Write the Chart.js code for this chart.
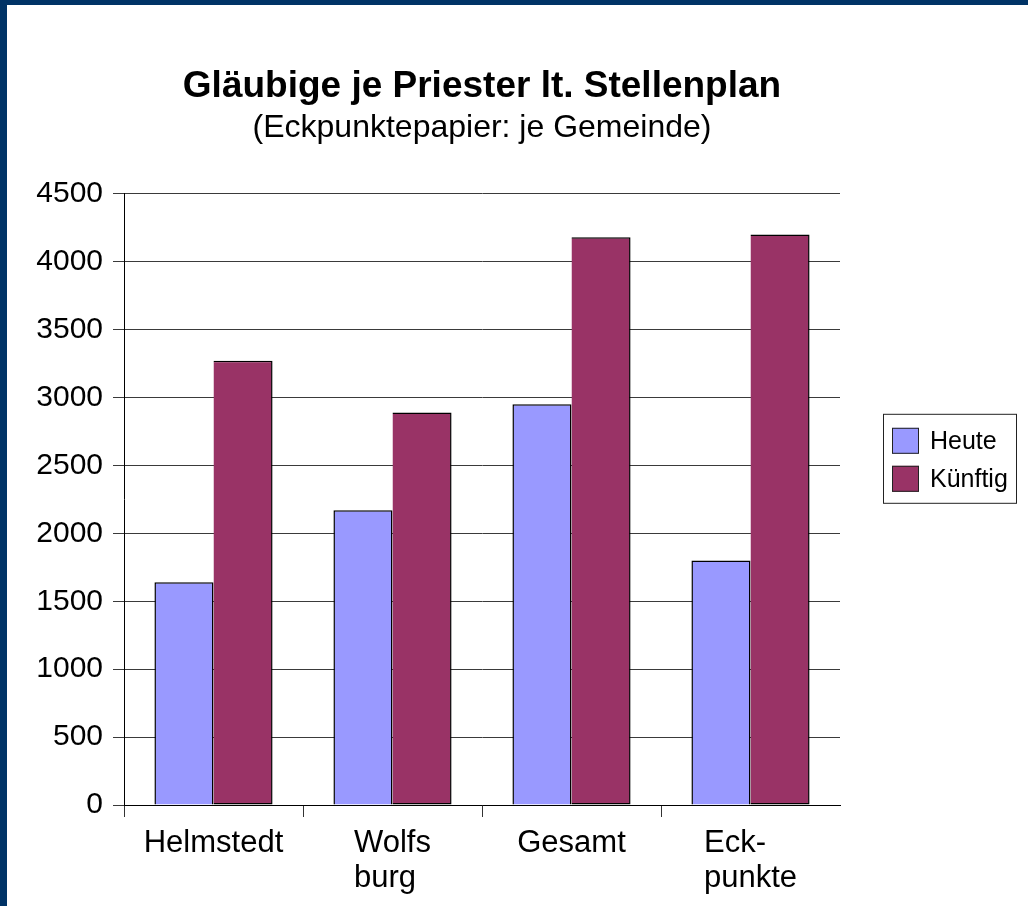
<!DOCTYPE html>
<html>
<head>
<meta charset="utf-8">
<script src="https://cdn.jsdelivr.net/npm/chart.js@4.4.0/dist/chart.umd.min.js"></script>
<style>
  html,body{margin:0;padding:0;background:#003366;overflow:hidden;}
  #wrap{position:absolute;left:7px;top:5px;width:1021px;height:901px;background:#fff;}
</style>
</head>
<body>
<div id="wrap"><canvas id="chart" width="1021" height="901"></canvas></div>
<script>
// Daten
const categories = [['Helmstedt'], ['Wolfs','burg'], ['Gesamt'], ['Eck-','punkte']];
const heute    = [1640, 2170, 2950, 1800];
const kuenftig = [3270, 2890, 4180, 4200];
const yTicks   = [0, 500, 1000, 1500, 2000, 2500, 3000, 3500, 4000, 4500];

const FONT = '"Liberation Sans", Arial, sans-serif';
Chart.defaults.font.family = FONT;
Chart.defaults.color = '#000';

// x-Beschriftung linksbündig (mehrzeilig), Legende mit Rahmen
const customDraw = {
    id:'customDraw',
    afterDraw(chart){
        const ctx = chart.ctx, xs = chart.scales.x, ca = chart.chartArea;
        ctx.save();
        ctx.fillStyle = '#000';
        ctx.font = '31px ' + FONT;
        ctx.textAlign = 'left'; ctx.textBaseline = 'alphabetic';
        categories.forEach((lines,i)=>{
            const cx = xs.getPixelForValue(i);
            const w = Math.max(...lines.map(l=>ctx.measureText(l).width));
            lines.forEach((l,j)=> ctx.fillText(l, cx - w/2, ca.bottom + 47 + j*35));
        });

        // Legende
        const lx = ca.right + 43, ly = ca.top + 220;
        ctx.strokeStyle = '#222'; ctx.lineWidth = 1;
        ctx.strokeRect(lx + .5, ly + .5, 133, 89);
        ctx.font = '25px ' + FONT; ctx.textBaseline = 'middle';
        chart.data.datasets.forEach((ds,i)=>{
            const sy = ly + 14 + i*38;
            ctx.fillStyle = ds.backgroundColor;
            ctx.fillRect(lx + 9, sy, 27, 26);
            ctx.strokeRect(lx + 9.5, sy + .5, 26, 25);
            ctx.fillStyle = '#000';
            ctx.fillText(ds.label, lx + 47, sy + 14);
        });
        ctx.restore();
    }
};

new Chart(document.getElementById('chart'), {
    type:'bar',
    data:{
        labels: categories,
        datasets:[
            {label:'Heute',   data:heute,    backgroundColor:'#9999ff', borderColor:'#000', borderWidth:1.5, borderSkipped:'start'},
            {label:'Künftig', data:kuenftig, backgroundColor:'#993366', borderColor:'#000', borderWidth:1.5, borderSkipped:'left'}
        ]
    },
    options:{
        responsive:false, animation:false,
        layout:{padding:{left:0, right:188, top:0, bottom:0}},
        datasets:{bar:{categoryPercentage:0.66, barPercentage:1.0}},
        plugins:{
            legend:{display:false},
            tooltip:{enabled:false},
            title:{display:true, fullSize:false, text:'Gläubige je Priester lt. Stellenplan',
                font:{size:37, weight:'bold'}, color:'#000', padding:{top:60, bottom:0}},
            subtitle:{display:true, fullSize:false, text:'(Eckpunktepapier: je Gemeinde)',
                font:{size:32}, color:'#000', padding:{top:0, bottom:46}}
        },
        scales:{
            x:{
                grid:{offset:true, drawOnChartArea:false, tickLength:12,
                    color: c => c.type === 'tick' ? '#333' : 'rgba(0,0,0,0)'},
                border:{color:'#000', width:1},
                ticks:{display:false},
                afterFit(s){ s.height = 101; }
            },
            y:{
                min:0, max:4500,
                afterBuildTicks(s){ s.ticks = yTicks.map(v=>({value:v})); },
                grid:{color:'#3a3a3a', tickLength:11},
                border:{color:'#000', width:1},
                ticks:{font:{size:30}, padding:10, color:'#000', callback:v=>String(v)},
                afterFit(s){ s.width = 117; }
            }
        }
    },
    plugins:[customDraw]
});
</script>
</body>
</html>
